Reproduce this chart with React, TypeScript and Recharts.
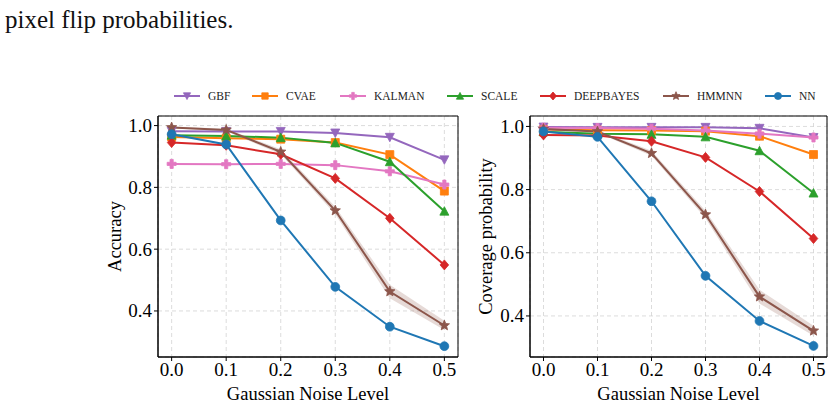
import React from 'react';
import {
  ComposedChart,
  Line,
  Area,
  XAxis,
  YAxis,
  CartesianGrid,
  ReferenceArea,
} from 'recharts';

// ---------- data ----------
const noiseLevels = [0, 0.1, 0.2, 0.3, 0.4, 0.5];
const xTicks = [0, 0.1, 0.2, 0.3, 0.4, 0.5];
const yTicks = [0.4, 0.6, 0.8, 1.0];
const seriesNames = ['GBF', 'CVAE', 'KALMAN', 'SCALE', 'DEEPBAYES', 'HMMNN', 'NN'];

// Accuracy (left panel)
const accGBF = [0.982, 0.981, 0.981, 0.976, 0.962, 0.889];
const accCVAE = [0.963, 0.959, 0.956, 0.945, 0.906, 0.788];
const accKALMAN = [0.876, 0.875, 0.876, 0.872, 0.852, 0.809];
const accSCALE = [0.969, 0.966, 0.961, 0.944, 0.883, 0.723];
const accDEEPBAYES = [0.945, 0.936, 0.907, 0.829, 0.7, 0.549];
const accHMMNN = [0.994, 0.986, 0.915, 0.725, 0.463, 0.353];
const accNN = [0.972, 0.939, 0.693, 0.478, 0.349, 0.286];
const accHMMNNSpread = [0.003, 0.004, 0.008, 0.012, 0.022, 0.015];

// Coverage probability (right panel)
const covGBF = [0.998, 0.997, 0.997, 0.997, 0.994, 0.965];
const covCVAE = [0.99, 0.988, 0.987, 0.985, 0.969, 0.911];
const covKALMAN = [0.996, 0.995, 0.993, 0.987, 0.977, 0.965];
const covSCALE = [0.983, 0.977, 0.975, 0.967, 0.923, 0.789];
const covDEEPBAYES = [0.973, 0.971, 0.953, 0.902, 0.794, 0.645];
const covHMMNN = [0.992, 0.984, 0.915, 0.721, 0.461, 0.353];
const covNN = [0.984, 0.967, 0.763, 0.527, 0.384, 0.305];
const covHMMNNSpread = [0.003, 0.004, 0.008, 0.012, 0.022, 0.016];

// ---------- styles ----------
const COLORS: Record<string, string> = {
  GBF: '#9467bd',
  CVAE: '#ff7f0e',
  KALMAN: '#e377c2',
  SCALE: '#2ca02c',
  DEEPBAYES: '#d62728',
  HMMNN: '#8c564b',
  NN: '#1f77b4',
};
const MARKERS: Record<string, string> = {
  GBF: 'v',
  CVAE: 's',
  KALMAN: 'P',
  SCALE: '^',
  DEEPBAYES: 'D',
  HMMNN: '*',
  NN: 'o',
};
const FONT = '"Liberation Serif", "DejaVu Serif", serif';

function starPath(ro: number, ri: number) {
  const pts: string[] = [];
  for (let i = 0; i < 10; i++) {
    const r = i % 2 === 0 ? ro : ri;
    const a = -Math.PI / 2 + (i * Math.PI) / 5;
    pts.push(`${(r * Math.cos(a)).toFixed(2)},${(r * Math.sin(a)).toFixed(2)}`);
  }
  return 'M' + pts.join('L') + 'Z';
}

function Marker({ kind, cx, cy, color, s = 1 }: { kind: string; cx: number; cy: number; color: string; s?: number }) {
  if (cx == null || cy == null || isNaN(cx) || isNaN(cy)) return null;
  const tr = `translate(${cx},${cy}) scale(${s})`;
  const common = { fill: color, stroke: color, strokeWidth: 0.8 / s };
  switch (kind) {
    case 'v':
      return <path transform={tr} d="M-4.5,-4L4.5,-4L0,4.5Z" {...common} />;
    case '^':
      return <path transform={tr} d="M-4.5,4L4.5,4L0,-4.5Z" {...common} />;
    case 's':
      return <path transform={tr} d="M-4,-4L4,-4L4,4L-4,4Z" {...common} />;
    case 'D':
      return <path transform={tr} d="M0,-5L4.3,0L0,5L-4.3,0Z" {...common} />;
    case 'P':
      return (
        <path
          transform={tr}
          d="M-1.6,-4.5L1.6,-4.5L1.6,-1.6L4.5,-1.6L4.5,1.6L1.6,1.6L1.6,4.5L-1.6,4.5L-1.6,1.6L-4.5,1.6L-4.5,-1.6L-1.6,-1.6Z"
          {...common}
        />
      );
    case '*':
      return <path transform={tr} d={starPath(5.4, 2.4)} {...common} />;
    default:
      return <circle transform={tr} cx={0} cy={0} r={4.4} {...common} />;
  }
}

function XTick(props: any) {
  const { x, y, payload } = props;
  return (
    <text x={x} y={y} dy={14} textAnchor="middle" style={{ fontFamily: FONT, fontSize: 19 }} fill="#000">
      {Number(payload.value).toFixed(1)}
    </text>
  );
}

function YTick(props: any) {
  const { x, y, payload } = props;
  return (
    <text x={x} y={y} dy={6.5} textAnchor="end" style={{ fontFamily: FONT, fontSize: 19 }} fill="#000">
      {Number(payload.value).toFixed(1)}
    </text>
  );
}

type PanelProps = {
  left: number;
  width: number;
  marginRight: number;
  yAxisWidth: number;
  yLabel: string;
  yLabelOffset: number;
  domain: [number, number];
  values: Record<string, number[]>;
  spread: number[];
};

function Panel({ left, width, marginRight, yAxisWidth, yLabel, yLabelOffset, domain, values, spread }: PanelProps) {
  const data = noiseLevels.map((x, i) => {
    const row: any = { x };
    seriesNames.forEach((n) => {
      row[n] = values[n][i];
    });
    row.band = [values.HMMNN[i] - spread[i], values.HMMNN[i] + spread[i]];
    return row;
  });
  const xDomain: [number, number] = [-0.025, 0.525];
  return (
    <div style={{ position: 'absolute', left, top: 100 }}>
      <ComposedChart
        width={width}
        height={306}
        data={data}
        margin={{ top: 16, right: marginRight, bottom: 0, left: 0 }}
        style={{ fontFamily: FONT }}
      >
        <CartesianGrid stroke="#d3d3d3" strokeDasharray="4 3" strokeWidth={0.8} />
        <XAxis
          dataKey="x"
          type="number"
          domain={xDomain}
          allowDataOverflow
          ticks={xTicks}
          tick={(p: any) => <XTick {...p} />}
          tickSize={4}
          tickMargin={1}
          axisLine={{ stroke: '#000' }}
          tickLine={{ stroke: '#000' }}
          height={49}
          label={{
            value: 'Gaussian Noise Level',
            position: 'insideBottom',
            offset: 6,
            style: { fontSize: 18.5, fill: '#000', fontFamily: FONT },
          }}
        />
        <YAxis
          type="number"
          domain={domain}
          allowDataOverflow
          ticks={yTicks}
          tick={(p: any) => <YTick {...p} />}
          tickSize={4}
          tickMargin={2}
          axisLine={{ stroke: '#000' }}
          tickLine={{ stroke: '#000' }}
          width={yAxisWidth}
          label={{
            value: yLabel,
            angle: -90,
            position: 'insideLeft',
            offset: yLabelOffset,
            style: { textAnchor: 'middle', fontSize: 18.5, fill: '#000', fontFamily: FONT },
          }}
        />
        <Area
          dataKey="band"
          type="linear"
          stroke="none"
          fill={COLORS.HMMNN}
          fillOpacity={0.22}
          isAnimationActive={false}
          dot={false}
          activeDot={false}
        />
        {seriesNames.map((n) => (
          <Line
            key={n}
            dataKey={n}
            type="linear"
            stroke={COLORS[n]}
            strokeWidth={2}
            isAnimationActive={false}
            activeDot={false}
            dot={(p: any) => (
              <Marker key={`${n}-${p.index}`} kind={MARKERS[n]} cx={p.cx} cy={p.cy} color={COLORS[n]} />
            )}
          />
        ))}
        <ReferenceArea
          x1={xDomain[0]}
          x2={xDomain[1]}
          y1={domain[0]}
          y2={domain[1]}
          fill="none"
          stroke="#000"
          strokeWidth={1}
          ifOverflow="visible"
        />
      </ComposedChart>
    </div>
  );
}

const legendX = [174, 252, 340, 447, 540, 663, 765];

function Legend() {
  return (
    <>
      {seriesNames.map((n, i) => (
        <div
          key={n}
          style={{
            position: 'absolute',
            left: legendX[i],
            top: 89,
            height: 14,
            display: 'flex',
            alignItems: 'center',
            whiteSpace: 'nowrap',
          }}
        >
          <svg width={26} height={14} style={{ display: 'block' }}>
            <line x1={0} y1={7} x2={26} y2={7} stroke={COLORS[n]} strokeWidth={2} />
            <Marker kind={MARKERS[n]} cx={13} cy={7} color={COLORS[n]} s={0.8} />
          </svg>
          <span style={{ marginLeft: 8, fontFamily: FONT, fontSize: 11.5, color: '#222', lineHeight: '14px' }}>
            {n}
          </span>
        </div>
      ))}
    </>
  );
}

export default function App() {
  const accValues = {
    GBF: accGBF,
    CVAE: accCVAE,
    KALMAN: accKALMAN,
    SCALE: accSCALE,
    DEEPBAYES: accDEEPBAYES,
    HMMNN: accHMMNN,
    NN: accNN,
  };
  const covValues = {
    GBF: covGBF,
    CVAE: covCVAE,
    KALMAN: covKALMAN,
    SCALE: covSCALE,
    DEEPBAYES: covDEEPBAYES,
    HMMNN: covHMMNN,
    NN: covNN,
  };
  return (
    <div
      style={{
        position: 'absolute',
        left: 0,
        top: 0,
        width: 834,
        height: 406,
        background: '#fff',
        overflow: 'hidden',
        fontFamily: FONT,
      }}
    >
      <div
        style={{
          position: 'absolute',
          left: 5,
          top: 6,
          fontSize: 25,
          fontFamily: FONT,
          color: '#111',
          lineHeight: '28px',
          whiteSpace: 'nowrap',
        }}
      >
        pixel flip probabilities.
      </div>
      <Legend />
      <Panel
        left={100}
        width={370}
        marginRight={12}
        yAxisWidth={58}
        yLabel="Accuracy"
        yLabelOffset={14}
        domain={[0.251, 1.031]}
        values={accValues}
        spread={accHMMNNSpread}
      />
      <Panel
        left={470}
        width={364}
        marginRight={7}
        yAxisWidth={60}
        yLabel="Coverage probability"
        yLabelOffset={15}
        domain={[0.27, 1.033]}
        values={covValues}
        spread={covHMMNNSpread}
      />
    </div>
  );
}
